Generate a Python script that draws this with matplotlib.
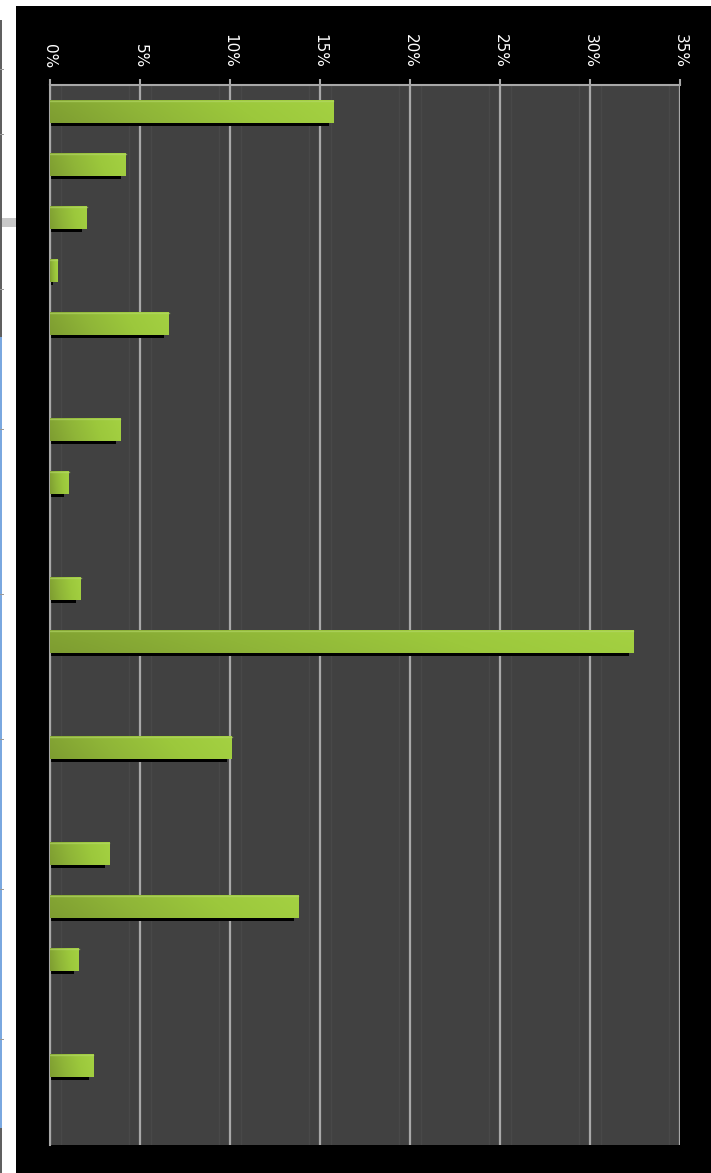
import matplotlib
matplotlib.use('Agg')
import matplotlib.pyplot as plt
import numpy as np
from matplotlib.patches import Rectangle
from matplotlib.colors import LinearSegmentedColormap
from matplotlib.ticker import FuncFormatter

# data (percent), one value per row, top to bottom
categories = list(range(20))
values = [15.75, 4.2, 2.05, 0.4, 6.6, 0.0, 3.9, 1.05, 0.0, 1.7,
          32.4, 0.0, 10.1, 0.0, 3.3, 13.8, 1.6, 0.0, 2.4, 0.0]
tick_values = [0, 5, 10, 15, 20, 25, 30, 35]

W, H = 711, 1173
fig = plt.figure(figsize=(W / 100, H / 100), dpi=100)
fig.patch.set_facecolor('white')

# black panel behind the chart
fig.add_artist(Rectangle((16 / W, 0), 1 - 16 / W, 1 - 6 / H, transform=fig.transFigure,
                         fc='black', ec='none', zorder=0))

# page fragments in the white strip on the left
fig.add_artist(Rectangle((0, 1 - 227 / H), 16 / W, 9 / H, transform=fig.transFigure,
                         fc='#c8c8c8', ec='none'))
fig.add_artist(Rectangle((0, 1 - 337 / H), 2 / W, 317 / H, transform=fig.transFigure,
                         fc='#606060', ec='none'))
fig.add_artist(Rectangle((0, 1 - 1128 / H), 2 / W, 791 / H, transform=fig.transFigure,
                         fc='#7aa8e0', ec='none'))
fig.add_artist(Rectangle((0, 0), 2 / W, 45 / H, transform=fig.transFigure,
                         fc='#606060', ec='none'))
for yy in [70, 135, 290, 430, 595, 740, 890, 1040]:
    fig.add_artist(Rectangle((0, 1 - yy / H), 4 / W, 1 / H, transform=fig.transFigure,
                             fc='#9a9a9a', ec='none'))

ax = fig.add_axes([50 / W, 1 - 1145 / H, 630 / W, (1145 - 85) / H])
ax.set_facecolor('#414141')
ax.set_xlim(0, 35)
ax.set_ylim(len(categories) - 0.5, -0.5)

# faint secondary lines next to the grid
for t in tick_values:
    for d in (-0.6, 0.6):
        if 0 < t + d < 35:
            ax.axvline(t + d, color='#484848', lw=1, zorder=0.5)
ax.set_xticks(tick_values)
ax.grid(axis='x', color='#a8a8a8', lw=1.6, zorder=1)
ax.set_axisbelow(True)

bar_h = 0.42
# shadow under each bar
shadow_vals = [max(v - 0.25, 0) if v > 0 else 0 for v in values]
ax.barh([c + 0.07 for c in categories], [s + 0.12 if s > 0 else 0 for s in shadow_vals],
        left=-0.12, height=bar_h, color='black', zorder=2)

bars = ax.barh(categories, values, height=bar_h, color='none', zorder=3)

green = LinearSegmentedColormap.from_list('g', ['#7e9d31', '#8fb538', '#9cc83c', '#a4d142'])
gx = np.linspace(0, 1, 256)
gy = np.linspace(0, 1, 16)
grad = gx[None, :] * 0.9 + (1 - gy[:, None]) * 0.1
for b, v in zip(bars, values):
    if v <= 0:
        continue
    x0, y0 = b.get_x(), b.get_y()
    w, h = b.get_width(), b.get_height()
    im = ax.imshow(grad, cmap=green, aspect='auto', interpolation='bilinear',
                   extent=(x0, x0 + w, y0 + h, y0), zorder=3.5, vmin=0, vmax=1)
    im.set_clip_path(b)
    # light top edge
    ax.plot([x0, x0 + w], [y0 + 0.02, y0 + 0.02], color='#b5d86a', lw=1, alpha=0.6, zorder=3.6)
ax.set_xlim(0, 35)
ax.set_ylim(len(categories) - 0.5, -0.5)

ax.set_yticks([])
ax.xaxis.tick_top()
ax.xaxis.set_major_formatter(FuncFormatter(lambda v, p: f'{int(v)}%'))
ax.tick_params(axis='x', top=True, bottom=False, labeltop=True, labelbottom=False,
               length=4.3, width=1.5, color='#a8a8a8', pad=8,
               labelcolor='white', labelsize=11, labelrotation=270)

for s in ['bottom', 'right']:
    ax.spines[s].set_visible(False)
for s in ['top', 'left']:
    ax.spines[s].set_color('#a8a8a8')
    ax.spines[s].set_linewidth(1.5)

fig.savefig('out.png', dpi=100, facecolor=fig.get_facecolor())
